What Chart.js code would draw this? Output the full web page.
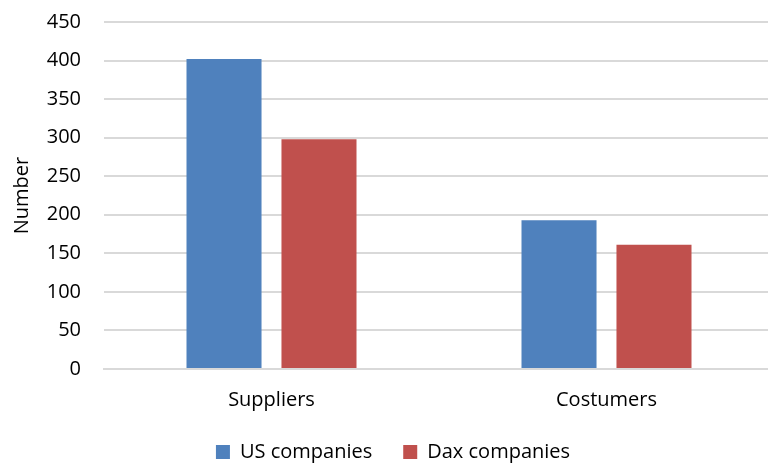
<!DOCTYPE html>
<html lang="en">
<head>
<meta charset="UTF-8">
<title>Suppliers and Costumers</title>
<style>
  html, body {
    margin: 0;
    padding: 0;
    background: #fff;
    overflow: hidden;
  }
  .wrap {
    width: 774px;
    height: 464px;
  }
</style>
</head>
<body>
<div class="wrap">
  <canvas id="grafico" width="774" height="464"></canvas>
</div>
<script src="https://cdn.jsdelivr.net/npm/chart.js"></script>
<script>
  const categorias = ['Suppliers', 'Costumers'];
  const usCompanies = [402, 193];
  const daxCompanies = [298, 161];
  const yTicks = [0, 50, 100, 150, 200, 250, 300, 350, 400, 450];

  const fonte = { family: '"Open Sans", Lato, sans-serif', size: 20 };
  const corGrade = '#d9d9d9';

  new Chart(document.getElementById('grafico'), {
    type: 'bar',
    data: {
      labels: categorias,
      datasets: [
        {
          label: 'US companies',
          data: usCompanies,
          backgroundColor: '#4f81bd',
          borderWidth: 0
        },
        {
          label: 'Dax companies',
          data: daxCompanies,
          backgroundColor: '#c0504d',
          borderWidth: 0
        }
      ]
    },
    options: {
      responsive: false,
      animation: false,
      layout: { padding: { top: 22, left: 12, right: 0, bottom: -8 } },
      datasets: {
        bar: { categoryPercentage: 0.567, barPercentage: 0.79 }
      },
      plugins: {
        tooltip: { enabled: false },
        legend: {
          position: 'bottom',
          labels: {
            color: '#000',
            font: fonte,
            boxWidth: 14,
            boxHeight: 14,
            padding: 31
          }
        }
      },
      scales: {
        x: {
          afterFit: axis => {
            axis.height = 42;
          },
          grid: { display: false, drawTicks: false },
          border: { display: true, color: corGrade, width: 2 },
          ticks: { color: '#000', font: fonte, padding: 19 }
        },
        y: {
          min: 0,
          max: 450,
          afterBuildTicks: axis => {
            axis.ticks = yTicks.map(v => ({ value: v }));
          },
          afterFit: axis => {
            // fixed axis width so the plot starts where the gridlines do
            axis.width = 92;
            axis.paddingTop = 0;
            axis.paddingBottom = 0;
          },
          grid: { color: corGrade, lineWidth: 2, drawTicks: false },
          border: { display: false },
          ticks: { color: '#000', font: fonte, padding: 23 },
          title: {
            display: true,
            text: 'Number',
            color: '#000',
            font: { ...fonte, lineHeight: 1 },
            padding: 0
          }
        }
      }
    }
  });
</script>
</body>
</html>
